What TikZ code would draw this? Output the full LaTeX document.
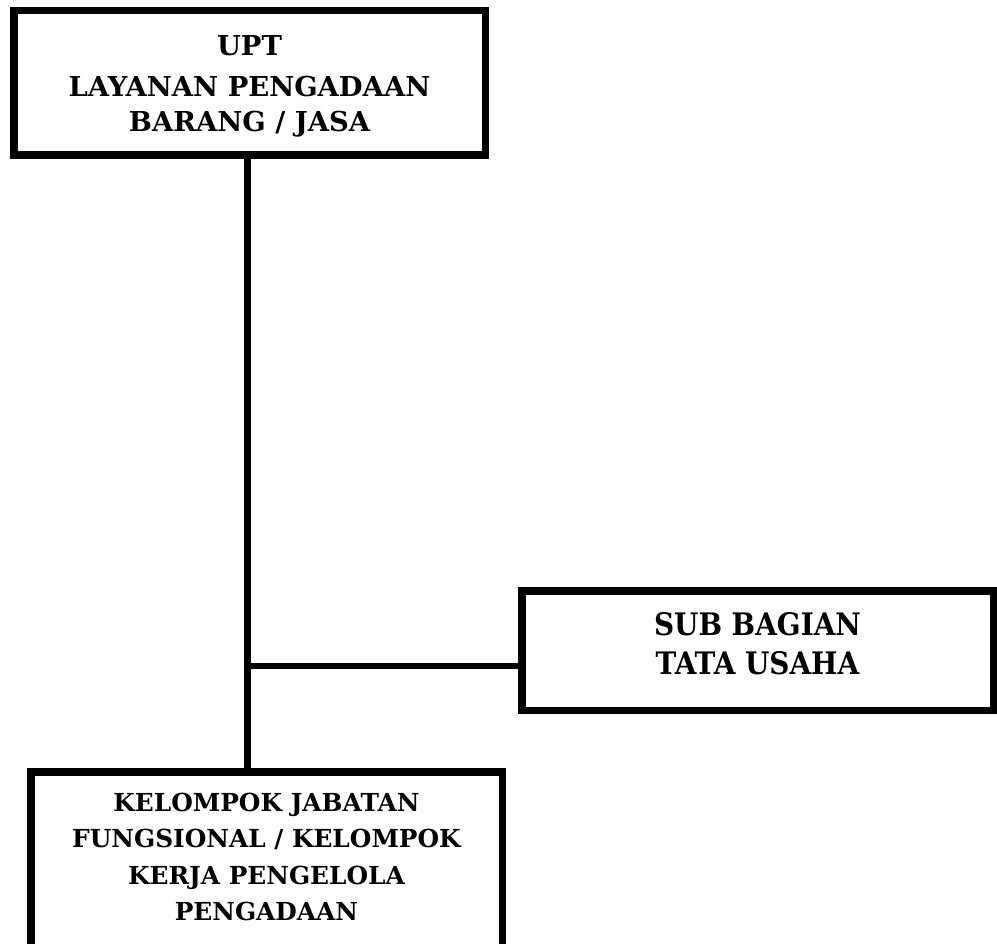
\documentclass[tikz,border=0pt]{standalone}
\usepackage{fontspec}
\setmainfont{DejaVu Serif}
\newfontfamily\condfont{DejaVu Serif Condensed}
\begin{document}
\begin{tikzpicture}[x=1pt,y=-1pt,
  orgbox/.style={draw=black,line width=7.5pt,fill=white,rectangle,inner sep=0pt,align=center,font=\bfseries},
  link/.style={draw=black,line width=6.5pt}]
\useasboundingbox (0,0) rectangle (997,944);
\clip (0,0) rectangle (997,944);
\node[orgbox,minimum width=471.5pt,minimum height=144.5pt,
  font=\bfseries\fontsize{27.4}{35}\selectfont] (top) at (249.5,83)
  {\rule{0pt}{27pt}UPT\\[6pt]LAYANAN PENGADAAN\\BARANG / JASA};
\node[orgbox,minimum width=471.5pt,minimum height=119.5pt,
  font=\condfont\bfseries\fontsize{31}{39}\selectfont] (sub) at (757.5,650.5)
  {SUB BAGIAN\\TATA USAHA\rule[-14pt]{0pt}{14pt}};
\node[orgbox,minimum width=471.5pt,minimum height=190pt,
  font=\bfseries\fontsize{24.8}{36.5}\selectfont] (kel) at (266.5,866.75)
  {KELOMPOK JABATAN\\FUNGSIONAL / KELOMPOK\\KERJA PENGELOLA\\PENGADAAN\rule[-20pt]{0pt}{20pt}};
\coordinate (j) at (247.5,666);
\draw[link] (top.south -| j) -- (kel.north -| j);
\draw[link] (j) -- (j -| sub.west);
\end{tikzpicture}
\end{document}
